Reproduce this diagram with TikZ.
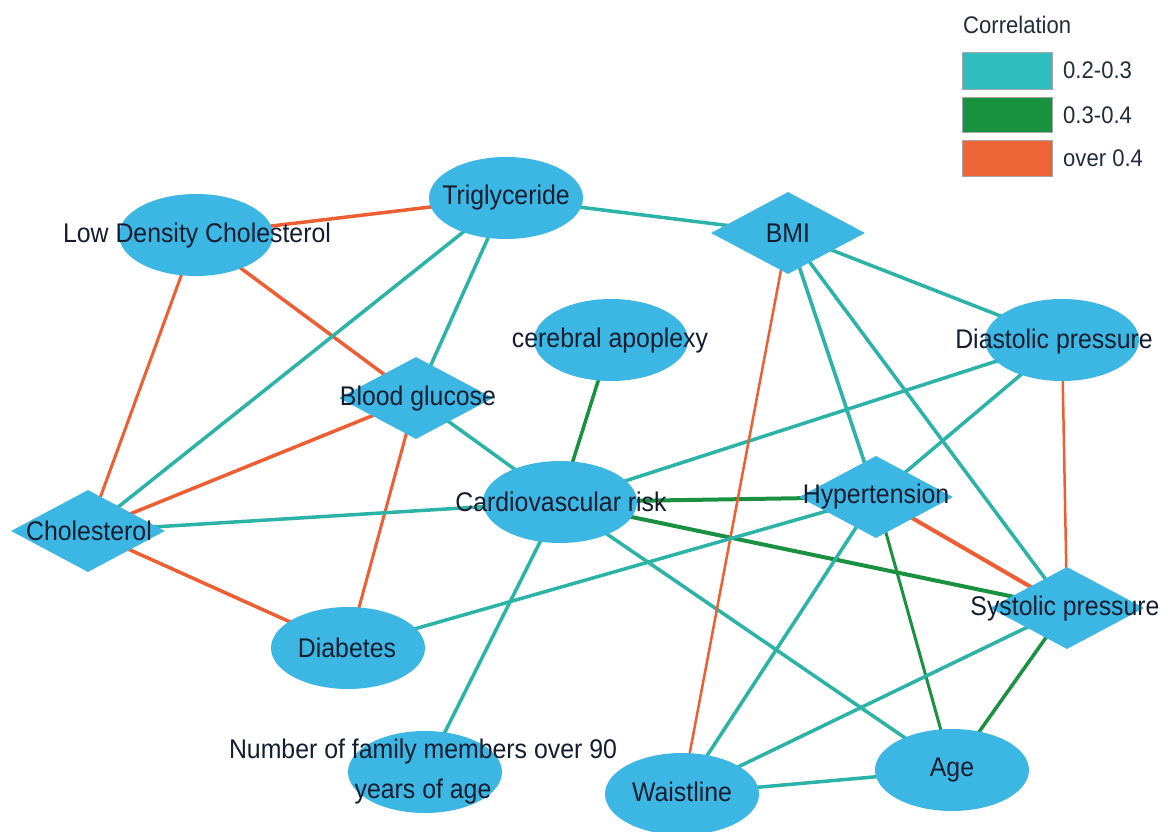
\documentclass[tikz,border=0pt]{standalone}
\usepackage{fontspec}
\setmainfont{Liberation Sans}[FakeStretch=0.92]
\usetikzlibrary{shapes.geometric}
\pgfdeclarelayer{back}
\pgfdeclarelayer{bg}
\pgfsetlayers{back,bg,main}
\definecolor{nodeblue}{HTML}{3CB6E3}
\definecolor{eteal}{HTML}{2AB3A6}
\definecolor{egreen}{HTML}{1A9140}
\definecolor{eorange}{HTML}{EE5E33}
\definecolor{lteal}{HTML}{2FBDBD}
\definecolor{lgreen}{HTML}{17933F}
\definecolor{lorange}{HTML}{EE6535}
\definecolor{txt}{HTML}{141D30}
\begin{document}
\begin{tikzpicture}[x=1pt,y=-1pt,
  ell/.style={ellipse, fill=nodeblue, draw=none, minimum width=154pt, minimum height=82pt, inner sep=0pt},
  dia/.style={diamond, fill=nodeblue, draw=none, minimum width=154pt, minimum height=82pt, inner sep=0pt},
  lbl/.style={font=\fontsize{27}{40}\selectfont, text=txt, inner sep=0pt, align=center},
  leg/.style={font=\fontsize{24}{28}\selectfont, text=txt!85!gray, inner sep=0pt, anchor=west},
  legbox/.style={draw=gray!70, line width=0.8pt},
  et/.style={draw=eteal, line width=3.5pt},
  eg/.style={draw=egreen, line width=3.5pt},
  eo/.style={draw=eorange, line width=3.5pt},
  thinline/.style={line width=2.5pt}]
\begin{pgfonlayer}{back}
\fill[white] (0,0) rectangle (1168,832);
\end{pgfonlayer}
\useasboundingbox (0,0) rectangle (1168,832);

% shapes
\node[ell] (tri) at (506,198) {};
\node[lbl] (tri-t) at (506,198) {Triglyceride};
\node[ell] (ldc) at (196,235) {};
\node[lbl] (ldc-t) at (197,236) {Low Density Cholesterol};
\node[dia] (bmi) at (788,233) {};
\node[lbl] (bmi-t) at (788,233) {BMI};
\node[ell] (cer) at (611,340) {};
\node[lbl] (cer-t) at (610,341) {cerebral apoplexy};
\node[ell] (dia) at (1062,340) {};
\node[lbl] (dia-t) at (1054,342) {Diastolic pressure};
\node[dia] (blg) at (416,398) {};
\node[lbl] (blg-t) at (418,399) {Blood glucose};
\node[ell] (cvr) at (560,502) {};
\node[lbl] (cvr-t) at (561,502) {Cardiovascular risk};
\node[dia] (hyp) at (876,497) {};
\node[lbl] (hyp-t) at (876,497) {Hypertension};
\node[dia] (cho) at (88,531) {};
\node[lbl] (cho-t) at (89,531) {Cholesterol};
\node[dia] (sys) at (1067,608) {};
\node[lbl] (sys-t) at (1065,609) {Systolic pressure};
\node[ell] (dbt) at (348,648) {};
\node[lbl] (dbt-t) at (347,648) {Diabetes};
\node[ell] (fam) at (425,772) {};
\node[lbl] (fam-t) at (423,772) {Number of family members over 90\\years of age};
\node[ell] (wst) at (682,794) {};
\node[lbl] (wst-t) at (682,792) {Waistline};
\node[ell] (age) at (952,770) {};
\node[lbl] (age-t) at (952,770) {Age};

% edges
\begin{pgfonlayer}{bg}
\draw[eo] (ldc.center) -- (tri.center);
\draw[eo,line width=3pt] (ldc.center) -- (cho.center);
\draw[eo] (ldc.center) -- (blg.center);
\draw[et] (tri.center) -- (cho.center);
\draw[et] (tri.center) -- (blg.center);
\draw[et] (tri.center) -- (bmi.center);
\draw[eo] (blg.center) -- (cho.center);
\draw[eo,line width=3pt] (blg.center) -- (dbt.center);
\draw[et] (blg.center) -- (cvr.center);
\draw[et] (cho.center) -- (cvr.center);
\draw[eo] (cho.center) -- (dbt.center);
\draw[eg] (cer.center) -- (cvr.center);
\draw[et] (cvr.center) -- (dia.center);
\draw[eg,line width=4pt] (cvr.center) -- (hyp.center);
\draw[eg,line width=4pt] (cvr.center) -- (sys.center);
\draw[et] (cvr.center) -- (age.center);
\draw[et] (cvr.center) -- (fam.center);
\draw[et] (bmi.center) -- (dia.center);
\draw[eo,thinline] (bmi.center) -- (wst.center);
\draw[et] (bmi.center) -- (hyp.center);
\draw[et] (bmi.center) -- (sys.center);
\draw[et] (dia.center) -- (hyp.center);
\draw[eo,thinline] (dia.center) -- (sys.center);
\draw[et] (hyp.center) -- (dbt.center);
\draw[eo,line width=4pt] (hyp.center) -- (sys.center);
\draw[et] (hyp.center) -- (wst.center);
\draw[eg,line width=3pt] (hyp.center) -- (age.center);
\draw[et] (sys.center) -- (wst.center);
\draw[eg] (sys.center) -- (age.center);
\draw[et] (wst.center) -- (age.center);
\end{pgfonlayer}

% legend
\node[leg] (leg-title) at (963,25) {Correlation};
\draw[legbox, fill=lteal] (962,52) rectangle (1052,89) coordinate (lb1);
\draw[legbox, fill=lgreen] (962,97) rectangle (1052,132) coordinate (lb2);
\draw[legbox, fill=lorange] (962,140) rectangle (1052,176) coordinate (lb3);
\node[leg] (leg-1) at (1063,70) {0.2-0.3};
\node[leg] (leg-2) at (1063,115) {0.3-0.4};
\node[leg] (leg-3) at (1063,158) {over 0.4};
\end{tikzpicture}
\end{document}
